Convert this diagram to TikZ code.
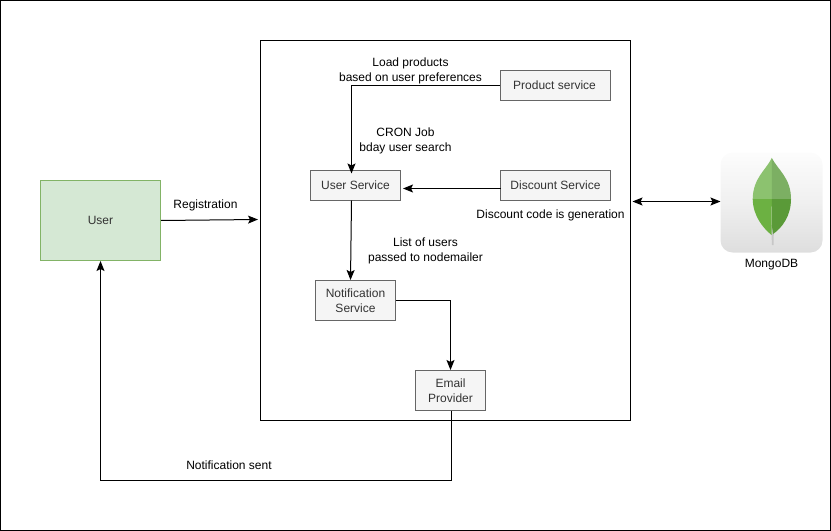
\documentclass[tikz,border=0pt]{standalone}
\usepackage{fontspec}
\setmainfont{Liberation Sans}
\usetikzlibrary{arrows.meta}
\definecolor{svcfill}{HTML}{F5F5F5}
\definecolor{svcline}{HTML}{666666}
\definecolor{svctext}{HTML}{333333}
\definecolor{userfill}{HTML}{D5E8D4}
\definecolor{userline}{HTML}{82B366}
\definecolor{leafTL}{HTML}{8CC26F}
\definecolor{leafTR}{HTML}{7CAF63}
\definecolor{leafBL}{HTML}{6CB142}
\definecolor{leafBR}{HTML}{5A9A38}
\tikzset{
  service/.style={draw=svcline,fill=svcfill,text=svctext,line width=0.75pt,minimum width=#1*0.75pt,inner sep=0pt,align=center,font=\fontsize{9}{11.25}\selectfont},
  service/.default=100,
  lbl/.style={inner sep=0pt,align=center,text=black,font=\fontsize{9}{11.25}\selectfont},
  conn/.style={line width=0.75pt,draw=black,-{Stealth[length=7.5pt,width=6pt,inset=1.5pt]}},
  bothconn/.style={line width=0.75pt,draw=black,{Stealth[length=7.5pt,width=6pt,inset=1.5pt]}-{Stealth[length=7.5pt,width=6pt,inset=1.5pt]}},
}
\begin{document}
\begin{tikzpicture}[x=0.75pt,y=-0.75pt]
\useasboundingbox (0,0) rectangle (831,531);
\node[draw=black,line width=0.75pt,minimum width=829.5*0.75pt,minimum height=529.5*0.75pt,inner sep=0pt] (frame) at (415.5,265.5) {};
\node[draw=black,line width=0.75pt,minimum width=370*0.75pt,minimum height=380*0.75pt,inner sep=0pt] (system) at (445.5,230.5) {};
\node[draw=userline,fill=userfill,text=svctext,line width=0.75pt,minimum width=120*0.75pt,minimum height=80*0.75pt,inner sep=0pt,font=\fontsize{9}{11.25}\selectfont] (user) at (100.5,220.5) {User};
\node[service=110,minimum height=30*0.75pt] (product) at (555.5,85.5) {\hspace{-1.5pt}Product service};
\node[service=110,minimum height=30*0.75pt] (discount) at (555.5,185.5) {Discount Service};
\node[service=90,minimum height=30*0.75pt] (userservice) at (355.5,185.5) {User Service};
\node[service=80,minimum height=40*0.75pt] (notif) at (355.5,300.5) {Notification\\Service};
\node[service=70,minimum height=40*0.75pt] (email) at (450.5,390.5) {Email\\Provider};
% MongoDB icon
\path[rounded corners=9pt,top color=black!1,bottom color=black!13,middle color=black!6] (720.5,152.5) rectangle (822.5,252.5);
\fill[black!22] (771,225) -- (774,225) -- (773.5,245) -- (772,245) -- cycle;
\fill[leafTL] (771.8,158) .. controls (766,170) and (753,178) .. (752.7,199) -- (771.8,199) -- cycle;
\fill[leafTR] (771.8,158) .. controls (778,170) and (791,178) .. (791,199) -- (771.8,199) -- cycle;
\fill[leafBL] (752.7,199) .. controls (753,216) and (763,228) .. (771.5,235) -- (771.8,199) -- cycle;
\fill[leafBR] (791,199) .. controls (791,216) and (782,228) .. (773,234) -- (771.8,225) -- (771.8,199) -- cycle;
\node[lbl] (mongo) at (771.5,265) {MongoDB};
\coordinate (mongoedge) at (720.5,201.5);
\coordinate (sysright) at (632.5,201.5);
\coordinate (sysleft) at (258,219.5);
\coordinate (corner1) at (351.5,85.5);
\coordinate (corner3) at (451.5,480.5);
\coordinate (corner4) at (100.5,480.5);
\coordinate (usbottom) at (351.5,200.5);
\coordinate (ustop) at (351.5,173.5);
\coordinate (nstop) at (350.5,280);
\coordinate (embottom) at (451.5,410.5);
\coordinate (dstart) at (500.5,188.5);
\coordinate (dend) at (403,188.5);
\coordinate (ncorner) at (450.5,300.5);
% connectors
\draw[conn] (user.east |- 0,220.5) -- (sysleft);
\draw[conn] (product.west) -- (corner1) -- (ustop);
\draw[conn] (dstart) -- (dend);
\draw[conn] (usbottom) -- (nstop);
\draw[conn] (notif.east) -- (ncorner) -- (email.north);
\draw[conn] (embottom) -- (corner3) -- (corner4) -- (user.south);
\draw[bothconn] (sysright) -- (mongoedge);
% labels
\node[lbl] (l1) at (410.5,71) {Load products\\based on user preferences};
\node[lbl] (l2) at (405.5,141) {CRON Job\\bday user search};
\node[lbl] (l3) at (550.5,215) {Discount code is generation};
\node[lbl] (l4) at (425.5,251) {List of users\\passed to nodemailer};
\node[lbl] (l5) at (205.5,205) {Registration};
\node[lbl] (l6) at (229,465) {Notification sent};
\end{tikzpicture}
\end{document}
